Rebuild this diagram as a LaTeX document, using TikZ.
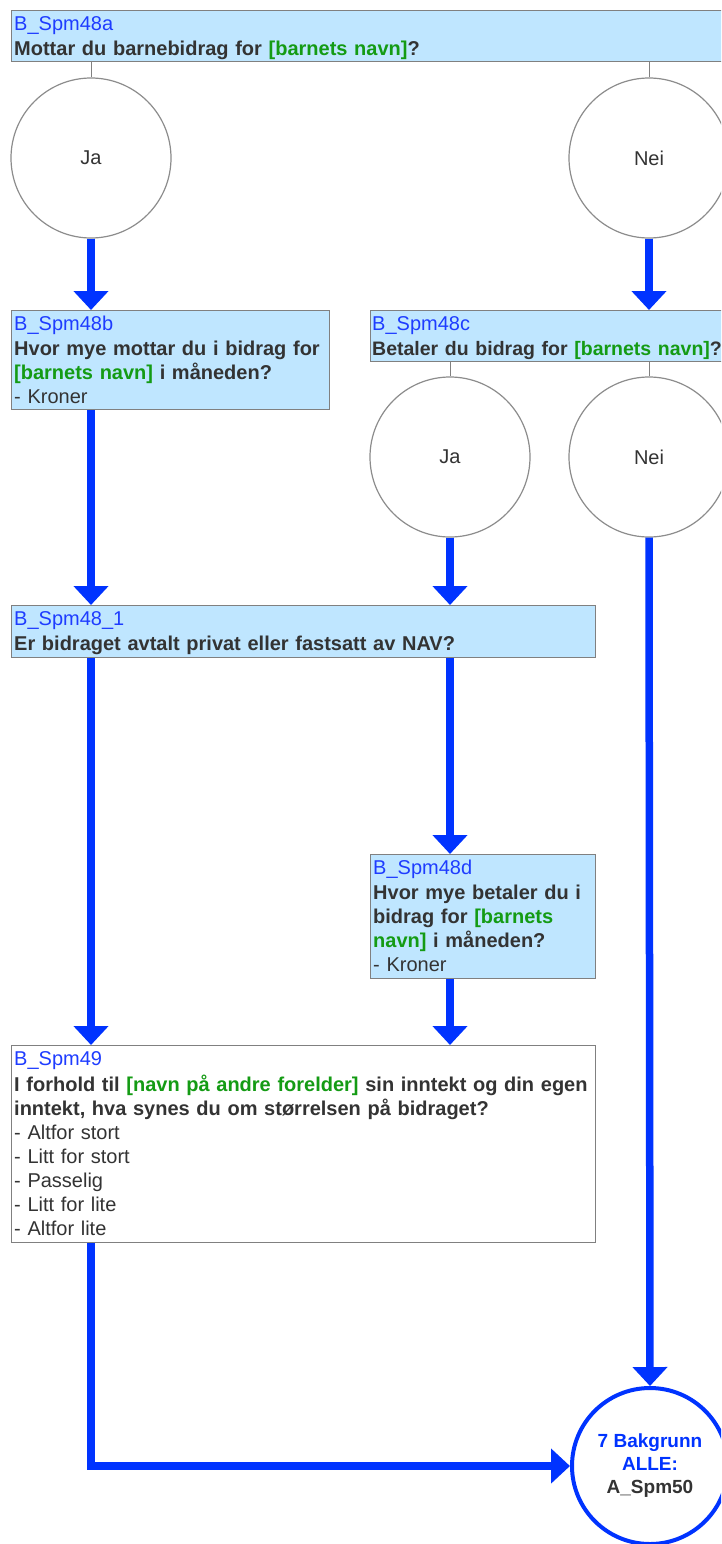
\documentclass[tikz,border=0pt]{standalone}
\usepackage{fontspec}
\setmainfont{Liberation Sans}
\usetikzlibrary{arrows.meta,calc}
\definecolor{boxblue}{RGB}{191,230,255}
\definecolor{boxline}{RGB}{128,128,128}
\definecolor{circgray}{RGB}{140,140,140}
\definecolor{idblue}{RGB}{30,60,255}
\definecolor{txtgray}{RGB}{51,51,51}
\definecolor{vargreen}{RGB}{20,155,20}
\definecolor{arrblue}{RGB}{0,51,255}
\newcommand{\qidt}[1]{{\color{idblue}\mdseries #1}}
\newcommand{\vn}[1]{{\color{vargreen}#1}}
\newcommand{\opt}[1]{{\mdseries #1}}
\begin{document}
\begin{tikzpicture}[x=1pt,y=-1pt,
  qbox/.style={draw=boxline,line width=1.2pt,fill=boxblue,rectangle,inner sep=0pt,anchor=north west},
  qtext/.style={anchor=north west,inner sep=0pt,align=left,text=txtgray,
    font=\fontsize{20pt}{24pt}\selectfont\bfseries,text width=#1},
  circ/.style={circle,draw=circgray,line width=1.2pt,fill=white,minimum size=160pt,inner sep=0pt,
    text=txtgray,font=\fontsize{20pt}{24pt}\selectfont},
  endc/.style={circle,draw=arrblue,line width=4pt,fill=white,minimum size=156pt,inner sep=0pt,
    align=center,font=\fontsize{19pt}{23pt}\selectfont\bfseries},
  link/.style={draw=boxline,line width=1pt},
  arr/.style={draw=arrblue,line width=7.5pt,-{Triangle[width=34pt,length=19pt]}}
]
\useasboundingbox (0,0) rectangle (721,1544);
\fill[white] (0,0) rectangle (721,1544);
\clip (0,0) rectangle (721,1544);

% boxes
\node[qbox,minimum width=730pt,minimum height=51pt] (A) at (11,10) {};
\node[qtext=690pt] (At) at (14,16) {\qidt{B\_Spm48a}\\[1pt]Mottar du barnebidrag for \vn{[barnets navn]}?};

\node[qbox,minimum width=318pt,minimum height=99pt] (B) at (11,310) {};
\node[qtext=312pt] (Bt) at (14,316) {\qidt{B\_Spm48b}\\[1pt]Hvor mye mottar du i bidrag for\\\vn{[barnets navn]} i måneden?\\\opt{- Kroner}};

\node[qbox,minimum width=370pt,minimum height=51pt] (C) at (370,310) {};
\node[qtext=420pt] (Ct) at (372,316) {\qidt{B\_Spm48c}\\[1pt]{\fontsize{19.5pt}{24pt}\selectfont Betaler du bidrag for \vn{[barnets navn]}?}};

\node[qbox,minimum width=584pt,minimum height=52pt] (D) at (11,605) {};
\node[qtext=578pt] (Dt) at (14,611) {\qidt{B\_Spm48\_1}\\[1pt]Er bidraget avtalt privat eller fastsatt av NAV?};

\node[qbox,minimum width=225pt,minimum height=124pt] (E) at (370,854) {};
\node[qtext=219pt] (Et) at (373,860) {\qidt{B\_Spm48d}\\[1pt]Hvor mye betaler du i\\bidrag for \vn{[barnets}\\\vn{navn]} i måneden?\\\opt{- Kroner}};

\node[qbox,fill=white,minimum width=584pt,minimum height=197pt] (F) at (11,1045) {};
\node[qtext=578pt] (Ft) at (14,1051) {\qidt{B\_Spm49}\\[2pt]I forhold til \vn{[navn på andre forelder]} sin inntekt og din egen\\inntekt, hva synes du om størrelsen på bidraget?\\\opt{- Altfor stort}\\\opt{- Litt for stort}\\\opt{- Passelig}\\\opt{- Litt for lite}\\\opt{- Altfor lite}};

% circles
\node[circ] (Ja1) at (91,158) {Ja};
\node[circ] (Nei1) at (649,158) {Nei};
\node[circ] (Ja2) at (450,457) {Ja};
\node[circ] (Nei2) at (649,457) {Nei};
\node[endc] (End) at (650,1466) {{\color{arrblue}7 Bakgrunn}\\{\color{arrblue}ALLE:}\\{\color{txtgray}A\_Spm50}};

% thin links
\draw[link] (A.south -| Ja1.north) -- (Ja1.north);
\draw[link] (A.south -| Nei1.north) -- (Nei1.north);
\draw[link] (C.south -| Ja2.north) -- (Ja2.north);
\draw[link] (C.south -| Nei2.north) -- (Nei2.north);

% arrows
\draw[arr] (Ja1.south) -- (B.north -| Ja1.south);
\draw[arr] (Nei1.south) -- (C.north -| Nei1.south);
\draw[arr] (B.south -| Ja1.south) -- (D.north -| Ja1.south);
\draw[arr] (Ja2.south) -- (D.north -| Ja2.south);
\draw[arr] (D.south -| Ja1.south) -- (F.north -| Ja1.south);
\draw[arr] (D.south -| Ja2.south) -- (E.north -| Ja2.south);
\draw[arr] (E.south -| Ja2.south) -- (F.north -| Ja2.south);
\draw[arr] (Nei2.south) -- (End.north);
\draw[arr] (F.south -| Ja1.south) |- (End.west);
\end{tikzpicture}
\end{document}
